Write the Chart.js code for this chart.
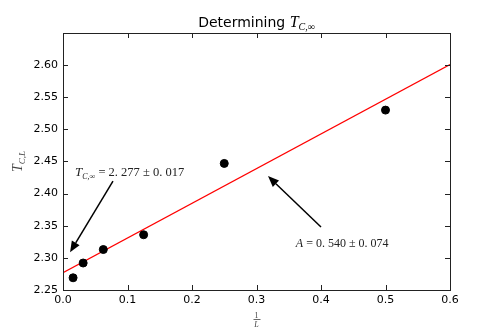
<!DOCTYPE html>
<html>
<head>
<meta charset="utf-8">
<script src="https://cdn.jsdelivr.net/npm/chart.js@4"></script>
<style>
  html, body { margin: 0; padding: 0; background: #fff; }
</style>
</head>
<body>
<canvas id="chart" width="500" height="333"></canvas>
<script>
// data
const invL = [0.015625, 0.03125, 0.0625, 0.125, 0.25, 0.5];
const tcL = [2.269, 2.292, 2.313, 2.336, 2.447, 2.530];
// fitted line end points
const fitX = [0, 0.6];
const fitY = [2.277, 2.601];
const xTicks = [0.0, 0.1, 0.2, 0.3, 0.4, 0.5, 0.6];
const yTicks = [2.25, 2.30, 2.35, 2.40, 2.45, 2.50, 2.55, 2.60, 2.65];

// annotations: [tailX, tailY, tipX, tipY]
const arrow1 = [0.0775, 2.4196, 0.0109, 2.3087];
const arrow2 = [0.4000, 2.3480, 0.3178, 2.4273];
const label1Pos = [0.0186, 2.427];
const label2Pos = [0.361, 2.317];

const SANS = '"DejaVu Sans", sans-serif';
const SERIF = '"Liberation Serif", "DejaVu Serif", serif';

function drawArrow(ctx, x0, y0, x1, y1) {
  const ang = Math.atan2(y1 - y0, x1 - x0);
  const hl = 11, hw = 4.5;
  const bx = x1 - hl * Math.cos(ang), by = y1 - hl * Math.sin(ang);
  ctx.strokeStyle = '#000';
  ctx.fillStyle = '#000';
  ctx.lineWidth = 1.5;
  ctx.beginPath();
  ctx.moveTo(x0, y0);
  ctx.lineTo(bx, by);
  ctx.stroke();
  ctx.beginPath();
  ctx.moveTo(x1, y1);
  ctx.lineTo(bx + hw * Math.sin(ang), by - hw * Math.cos(ang));
  ctx.lineTo(bx - hw * Math.sin(ang), by + hw * Math.cos(ang));
  ctx.closePath();
  ctx.fill();
}

// pieces: [text, font, dy]
function drawRich(ctx, pieces, x, y, align) {
  let total = 0;
  pieces.forEach(p => { ctx.font = p[1]; total += ctx.measureText(p[0]).width; });
  let cx = align === 'center' ? x - total / 2 : x;
  ctx.textAlign = 'left';
  ctx.textBaseline = 'alphabetic';
  pieces.forEach(p => {
    ctx.font = p[1];
    ctx.fillText(p[0], cx, y + (p[2] || 0));
    cx += ctx.measureText(p[0]).width;
  });
}

const extras = {
  id: 'extras',
  afterDraw(chart) {
    const ctx = chart.ctx;
    const a = chart.chartArea;
    const xs = chart.scales.x, ys = chart.scales.y;
    ctx.save();

    // frame
    ctx.strokeStyle = '#222';
    ctx.lineWidth = 1;
    ctx.strokeRect(Math.round(a.left) + 0.5, Math.round(a.top) + 0.5,
      Math.round(a.right - a.left), Math.round(a.bottom - a.top));

    // inward ticks on all sides
    ctx.beginPath();
    xTicks.forEach(v => {
      const px = Math.round(xs.getPixelForValue(v)) + 0.5;
      ctx.moveTo(px, a.bottom); ctx.lineTo(px, a.bottom - 5);
      ctx.moveTo(px, a.top); ctx.lineTo(px, a.top + 5);
    });
    yTicks.forEach(v => {
      const py = Math.round(ys.getPixelForValue(v)) + 0.5;
      ctx.moveTo(a.left, py); ctx.lineTo(a.left + 5, py);
      ctx.moveTo(a.right, py); ctx.lineTo(a.right - 5, py);
    });
    ctx.stroke();

    ctx.fillStyle = '#000';
    // title
    drawRich(ctx, [
      ['Determining ', '14px ' + SANS, 0],
      ['T', 'italic 16px ' + SERIF, 0],
      ['C,\u221e', 'italic 10px ' + SERIF, 3]
    ], (a.left + a.right) / 2, 27, 'center');

    // y axis label
    ctx.save();
    ctx.translate(22, (a.top + a.bottom) / 2);
    ctx.rotate(-Math.PI / 2);
    ctx.fillStyle = '#444';
    drawRich(ctx, [
      ['T', 'italic 14px ' + SERIF, 0],
      ['C,L', 'italic 9px ' + SERIF, 3]
    ], 0, 0, 'center');
    ctx.restore();

    // x axis label 1/L
    const mx = (a.left + a.right) / 2;
    ctx.fillStyle = '#444';
    ctx.font = '8px ' + SERIF;
    ctx.textAlign = 'center';
    ctx.fillText('1', mx, 318);
    ctx.fillRect(mx - 3, 319, 7, 0.8);
    ctx.font = 'italic 8px ' + SERIF;
    ctx.fillText('L', mx, 327);

    // annotations
    ctx.fillStyle = '#222';
    drawRich(ctx, [
      ['T', 'italic 13px ' + SERIF, 0],
      ['C,\u221e', 'italic 8px ' + SERIF, 3],
      [' = 2. 277 \u00b1 0. 017', '12.5px ' + SERIF, 0]
    ], xs.getPixelForValue(label1Pos[0]), ys.getPixelForValue(label1Pos[1]), 'left');
    drawRich(ctx, [
      ['A', 'italic 12px ' + SERIF, 0],
      [' = 0. 540 \u00b1 0. 074', '12px ' + SERIF, 0]
    ], xs.getPixelForValue(label2Pos[0]), ys.getPixelForValue(label2Pos[1]), 'left');

    [arrow1, arrow2].forEach(ar => {
      drawArrow(ctx, xs.getPixelForValue(ar[0]), ys.getPixelForValue(ar[1]),
        xs.getPixelForValue(ar[2]), ys.getPixelForValue(ar[3]));
    });

    ctx.restore();
  }
};

new Chart(document.getElementById('chart'), {
  type: 'scatter',
  data: {
    datasets: [
      {
        label: 'fit',
        type: 'line',
        data: fitX.map((x, i) => ({ x: x, y: fitY[i] })),
        borderColor: '#ff0000',
        borderWidth: 1.2,
        pointRadius: 0,
        fill: false,
        order: 2
      },
      {
        label: 'T_C,L',
        data: invL.map((x, i) => ({ x: x, y: tcL[i] })),
        backgroundColor: '#000',
        borderColor: '#000',
        pointRadius: 4,
        order: 1
      }
    ]
  },
  options: {
    responsive: false,
    animation: false,
    layout: { padding: { top: 33, right: 50, left: 0, bottom: 0 } },
    plugins: {
      legend: { display: false },
      tooltip: { enabled: false },
      title: { display: false }
    },
    scales: {
      x: {
        type: 'linear',
        min: 0,
        max: 0.6,
        afterBuildTicks: s => { s.ticks = xTicks.map(v => ({ value: v })); },
        afterFit: s => { s.height = 43; },
        grid: { display: false, drawTicks: false },
        border: { display: false },
        ticks: {
          padding: 4,
          color: '#000',
          font: { family: SANS, size: 11 },
          callback: v => v.toFixed(1)
        }
      },
      y: {
        type: 'linear',
        min: 2.25,
        max: 2.65,
        afterBuildTicks: s => { s.ticks = yTicks.map(v => ({ value: v })); },
        afterFit: s => { s.width = 63; },
        grid: { display: false, drawTicks: false },
        border: { display: false },
        ticks: {
          padding: 5,
          color: '#000',
          font: { family: SANS, size: 11 },
          callback: v => v > 2.64 ? '' : v.toFixed(2)
        }
      }
    }
  },
  plugins: [extras]
});
</script>
</body>
</html>
